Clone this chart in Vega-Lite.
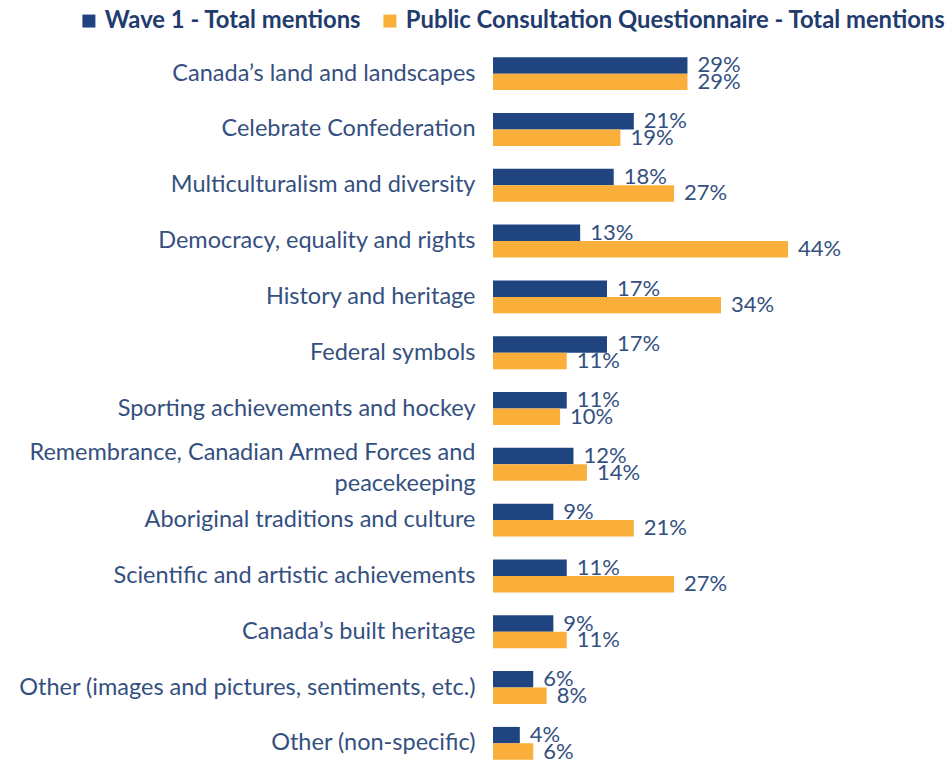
{
  "$schema": "https://vega.github.io/schema/vega-lite/v6.json",
  "width": 456,
  "height": 725,
  "autosize": {"type": "none"},
  "padding": {"left": 493, "top": 46, "right": 0, "bottom": 0},
  "background": "white",
  "data": {
    "values": [
      {"cat": "Canada’s land and landscapes", "series": "Wave 1 - Total mentions", "v": 0.29},
      {"cat": "Canada’s land and landscapes", "series": "Public Consultation Questionnaire - Total mentions", "v": 0.29},
      {"cat": "Celebrate Confederation", "series": "Wave 1 - Total mentions", "v": 0.21},
      {"cat": "Celebrate Confederation", "series": "Public Consultation Questionnaire - Total mentions", "v": 0.19},
      {"cat": "Multiculturalism and diversity", "series": "Wave 1 - Total mentions", "v": 0.18},
      {"cat": "Multiculturalism and diversity", "series": "Public Consultation Questionnaire - Total mentions", "v": 0.27},
      {"cat": "Democracy, equality and rights", "series": "Wave 1 - Total mentions", "v": 0.13},
      {"cat": "Democracy, equality and rights", "series": "Public Consultation Questionnaire - Total mentions", "v": 0.44},
      {"cat": "History and heritage", "series": "Wave 1 - Total mentions", "v": 0.17},
      {"cat": "History and heritage", "series": "Public Consultation Questionnaire - Total mentions", "v": 0.34},
      {"cat": "Federal symbols", "series": "Wave 1 - Total mentions", "v": 0.17},
      {"cat": "Federal symbols", "series": "Public Consultation Questionnaire - Total mentions", "v": 0.11},
      {"cat": "Sporting achievements and hockey", "series": "Wave 1 - Total mentions", "v": 0.11},
      {"cat": "Sporting achievements and hockey", "series": "Public Consultation Questionnaire - Total mentions", "v": 0.10},
      {"cat": "Remembrance, Canadian Armed Forces and|peacekeeping", "series": "Wave 1 - Total mentions", "v": 0.12},
      {"cat": "Remembrance, Canadian Armed Forces and|peacekeeping", "series": "Public Consultation Questionnaire - Total mentions", "v": 0.14},
      {"cat": "Aboriginal traditions and culture", "series": "Wave 1 - Total mentions", "v": 0.09},
      {"cat": "Aboriginal traditions and culture", "series": "Public Consultation Questionnaire - Total mentions", "v": 0.21},
      {"cat": "Scientific and artistic achievements", "series": "Wave 1 - Total mentions", "v": 0.11},
      {"cat": "Scientific and artistic achievements", "series": "Public Consultation Questionnaire - Total mentions", "v": 0.27},
      {"cat": "Canada’s built heritage", "series": "Wave 1 - Total mentions", "v": 0.09},
      {"cat": "Canada’s built heritage", "series": "Public Consultation Questionnaire - Total mentions", "v": 0.11},
      {"cat": "Other (images and pictures, sentiments, etc.)", "series": "Wave 1 - Total mentions", "v": 0.06},
      {"cat": "Other (images and pictures, sentiments, etc.)", "series": "Public Consultation Questionnaire - Total mentions", "v": 0.08},
      {"cat": "Other (non-specific)", "series": "Wave 1 - Total mentions", "v": 0.04},
      {"cat": "Other (non-specific)", "series": "Public Consultation Questionnaire - Total mentions", "v": 0.06}
    ]
  },
  "encoding": {
    "y": {
      "field": "cat",
      "type": "nominal",
      "sort": null,
      "scale": {"paddingInner": 0.41, "paddingOuter": 0.2},
      "axis": {
        "title": null,
        "domain": false,
        "ticks": false,
        "labelPadding": 18,
        "labelFont": "Lato",
        "labelFontSize": 23.5,
        "labelColor": "#34507F",
        "labelLimit": 600,
        "labelLineHeight": 31,
        "labelOffset": {"condition": {"test": "indexof(datum.value, '|') >= 0", "value": -11}, "value": 0},
        "labelExpr": "split(datum.label, '|')"
      }
    },
    "yOffset": {
      "field": "series",
      "type": "nominal",
      "scale": {"domain": ["Wave 1 - Total mentions", "Public Consultation Questionnaire - Total mentions"]}
    },
    "x": {
      "field": "v",
      "type": "quantitative",
      "scale": {"domain": [0, 0.68]},
      "axis": null
    }
  },
  "layer": [
    {
      "mark": {"type": "bar"},
      "encoding": {
        "color": {
          "field": "series",
          "type": "nominal",
          "scale": {
            "domain": ["Wave 1 - Total mentions", "Public Consultation Questionnaire - Total mentions"],
            "range": ["#1F4480", "#F9AF3A"]
          },
          "legend": {
            "title": null,
            "orient": "none",
            "legendX": -416,
            "legendY": -37,
            "direction": "horizontal",
            "symbolType": "square",
            "symbolSize": 169,
            "symbolStrokeWidth": 0,
            "labelFont": "Lato",
            "labelFontSize": 23.8,
            "labelFontWeight": "bold",
            "labelColor": "#1F3C6E",
            "labelLimit": 700,
            "columnPadding": 16,
            "labelOffset": 4
          }
        }
      }
    },
    {
      "mark": {
        "type": "text",
        "align": "left",
        "baseline": "middle",
        "dx": 10,
        "font": "Lato",
        "fontSize": 22,
        "color": "#34507F"
      },
      "encoding": {
        "text": {"field": "v", "type": "quantitative", "format": ".0%"},
        "detail": {"field": "series"}
      }
    }
  ],
  "config": {"view": {"stroke": null}}
}
